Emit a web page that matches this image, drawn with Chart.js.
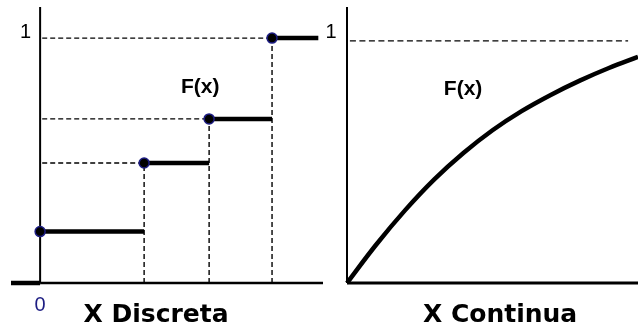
<!DOCTYPE html>
<html>
<head>
<meta charset="utf-8">
<script src="https://cdn.jsdelivr.net/npm/chart.js@4/dist/chart.umd.min.js"></script>
<style>
    html, body { margin: 0; padding: 0; background: #ffffff; }
    #wrap { position: relative; width: 638px; height: 329px; overflow: hidden; }
    #discreteGraph { position: absolute; left: 0; top: 0; }
    #continuousGraph { position: absolute; left: 320px; top: 0; }
</style>
</head>
<body>
<div id="wrap">
    <canvas id="discreteGraph" width="330" height="329"></canvas>
    <canvas id="continuousGraph" width="318" height="329"></canvas>
</div>
<script>
// discrete panel: jump points of F(x)
var jumpX = [0, 2, 3.25, 4.46];
var jumpY = [0.21, 0.49, 0.67, 1];
var discreteStartX = -0.56;
var discreteEndX = 5.35;
var discreteAxisMaxX = 5.44;
var discreteAxisMaxY = 1.127;

// continuous panel: points
var curveX = [0, 1, 2, 3, 4, 5, 6, 7, 8, 9, 10];
var curveY = [0, 0.158, 0.301, 0.428, 0.537, 0.631, 0.71, 0.777, 0.836, 0.888, 0.934];
var continuousAxisMaxX = 10;
var continuousAxisMaxY = 1.14;

// text
var discreteTitle = "X Discreta";
var continuousTitle = "X Continua";
var functionLabel = "F(x)";
var yTickLabel = "1";
var xTickLabel = "0";

var discreteGraph;
var continuousGraph;

var panelLabels = {
    id: "panelLabels",
    afterDatasetsDraw: function (chart, args, opts) {
        var ctx = chart.ctx;
        var xs = chart.scales.x;
        var ys = chart.scales.y;
        ctx.save();
        ctx.textAlign = "center";
        ctx.textBaseline = "middle";
        for (var item of opts.items) {
            ctx.font = item.font;
            ctx.fillStyle = item.color || "#000000";
            ctx.fillText(item.text, xs.getPixelForValue(item.x) + (item.dx || 0), ys.getPixelForValue(item.y) + (item.dy || 0));
        }
        ctx.restore();
    },
};

function segment(x1, y1, x2, y2) {
    return [{ x: x1, y: y1 }, { x: x2, y: y2 }, { x: x2, y: null }];
}

function base_options(xMax, yMax, xMin, padding, labels) {
    return {
        responsive: false,
        animation: false,
        layout: { padding: padding },
        scales: {
            x: { type: "linear", min: xMin, max: xMax, display: false },
            y: { type: "linear", min: 0, max: yMax, display: false },
        },
        plugins: {
            legend: { display: false },
            tooltip: { enabled: false },
            panelLabels: { items: labels },
        },
        elements: { point: { radius: 0 } },
    };
}

function create_discrete_graph() {
    if (discreteGraph) {
        discreteGraph.destroy();
    }
    var steps = segment(discreteStartX, 0, 0, 0);
    var guides = [];
    for (var i = 0; i < jumpX.length; i++) {
        var nextX = i + 1 < jumpX.length ? jumpX[i + 1] : discreteEndX;
        steps = steps.concat(segment(jumpX[i], jumpY[i], nextX, jumpY[i]));
        if (i > 0) {
            guides = guides.concat(segment(0.04, jumpY[i], jumpX[i], jumpY[i]));
            guides = guides.concat(segment(jumpX[i], 0, jumpX[i], jumpY[i]));
        }
    }
    var dots = [];
    for (var j = 0; j < jumpX.length; j++) {
        dots.push({ x: jumpX[j], y: jumpY[j] });
    }
    var labels = [
        { text: yTickLabel, x: -0.28, y: 1, dy: -6, font: "20px 'Liberation Sans'" },
        { text: xTickLabel, x: 0, y: 0, dy: 22, font: "20px 'Liberation Sans'", color: "#1c1c82" },
        { text: functionLabel, x: 3.08, y: 0.8, font: "bold 21px 'Liberation Sans'" },
        { text: discreteTitle, x: 2.23, y: 0, dy: 32, font: "bold 25px 'DejaVu Sans'" },
    ];
    discreteGraph = new Chart("discreteGraph", {
        type: "line",
        data: {
            datasets: [
                {
                    data: dots,
                    showLine: false,
                    pointRadius: 5,
                    pointBackgroundColor: "#000000",
                    pointBorderColor: "#1c1c82",
                    pointBorderWidth: 1.5,
                    order: 0,
                },
                { data: steps, borderColor: "#000000", borderWidth: 4.5, borderCapStyle: "butt", clip: false, order: 1 },
                { data: guides, borderColor: "#000000", borderWidth: 1.4, borderDash: [5, 3], order: 2 },
                { data: segment(0, 0, 0, discreteAxisMaxY), borderColor: "#000000", borderWidth: 2, clip: false, order: 3 },
                { data: segment(0, 0, discreteAxisMaxX, 0), borderColor: "#000000", borderWidth: 2.5, clip: false, order: 3 },
            ],
        },
        options: base_options(discreteAxisMaxX, discreteAxisMaxY, discreteStartX, { left: 11, right: 7, top: 7, bottom: 46 }, labels),
        plugins: [panelLabels],
    });
}

function create_continuous_graph() {
    if (continuousGraph) {
        continuousGraph.destroy();
    }
    var curve = [];
    for (var i = 0; i < curveX.length; i++) {
        curve.push({ x: curveX[i], y: curveY[i] });
    }
    var labels = [
        { text: yTickLabel, x: -0.55, y: 1, dy: -8, font: "20px 'Liberation Sans'" },
        { text: functionLabel, x: 3.99, y: 0.8, font: "bold 21px 'Liberation Sans'" },
        { text: continuousTitle, x: 5.26, y: 0, dy: 32, font: "bold 25px 'DejaVu Sans'" },
    ];
    continuousGraph = new Chart("continuousGraph", {
        type: "line",
        data: {
            datasets: [
                { data: curve, borderColor: "#000000", borderWidth: 4.5, tension: 0.4, clip: false, order: 0 },
                { data: segment(0.1, 1, 9.66, 1), borderColor: "#000000", borderWidth: 1.4, borderDash: [6, 3.5], order: 1 },
                { data: segment(0, 0, 0, continuousAxisMaxY), borderColor: "#000000", borderWidth: 2, clip: false, order: 2 },
                { data: segment(0, 0, continuousAxisMaxX, 0), borderColor: "#000000", borderWidth: 3, clip: false, order: 2 },
            ],
        },
        options: base_options(continuousAxisMaxX, continuousAxisMaxY, 0, { left: 27, right: 0, top: 7, bottom: 46 }, labels),
        plugins: [panelLabels],
    });
}

create_discrete_graph();
create_continuous_graph();
</script>
</body>
</html>
